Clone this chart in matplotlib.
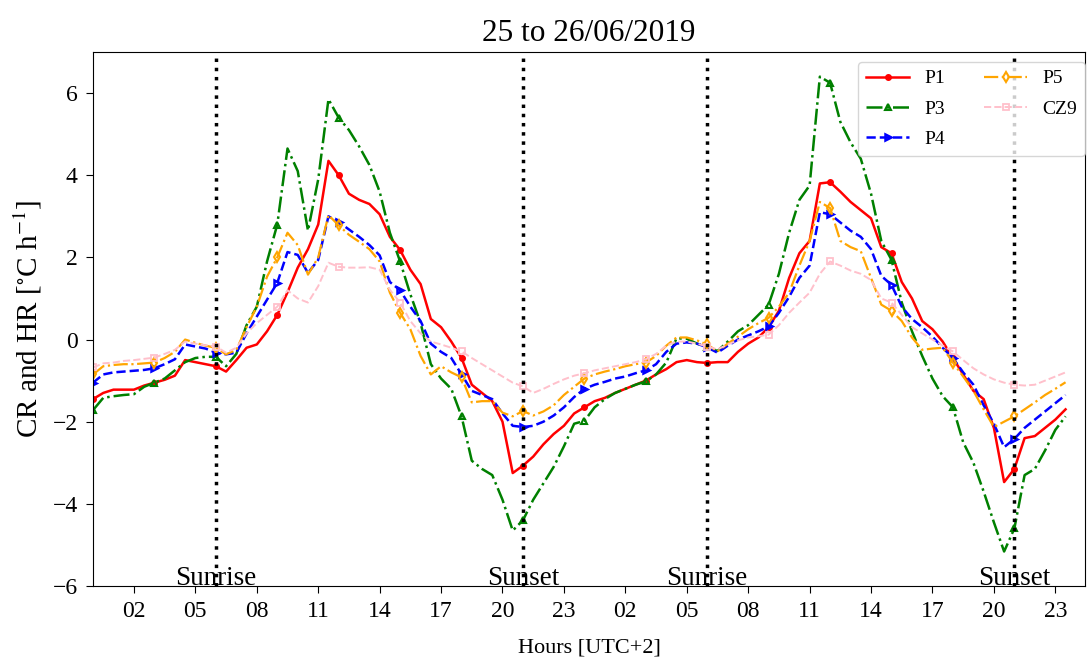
import numpy as np
import matplotlib
matplotlib.use("Agg")
import matplotlib.pyplot as plt

plt.rcParams['font.family'] = ['Liberation Serif', 'DejaVu Serif']
plt.rcParams['mathtext.fontset'] = 'stix'

# half-hourly time axis (hours from 00:00 on 25/06/2019)
hours = np.arange(0, 48, 0.5)

P1 = [-1.45, -1.3, -1.22, -1.22, -1.22, -1.12, -1.05, -0.98, -0.88, -0.5, -0.55, -0.6,
      -0.65, -0.78, -0.5, -0.2, -0.12, 0.2, 0.6, 1.15, 1.75, 2.2, 2.8, 4.35,
      4.0, 3.55, 3.4, 3.3, 3.05, 2.5, 2.18, 1.7, 1.35, 0.5, 0.3, -0.05,
      -0.45, -1.1, -1.3, -1.5, -2.0, -3.25, -3.07, -2.85, -2.55, -2.3, -2.1, -1.8,
      -1.65, -1.5, -1.42, -1.3, -1.2, -1.1, -1.0, -0.85, -0.72, -0.55, -0.5, -0.55,
      -0.57, -0.55, -0.55, -0.3, -0.1, 0.05, 0.3, 0.7, 1.5, 2.1, 2.4, 3.8,
      3.83, 3.6, 3.35, 3.15, 2.95, 2.25, 2.1, 1.4, 1.0, 0.45, 0.25, -0.05,
      -0.45, -0.85, -1.25, -1.45, -2.15, -3.47, -3.15, -2.4, -2.35, -2.15, -1.95, -1.7]

P3 = [-1.72, -1.42, -1.38, -1.35, -1.33, -1.15, -1.05, -0.95, -0.75, -0.55, -0.45, -0.42,
      -0.42, -0.65, -0.35, 0.35, 0.8, 1.9, 2.8, 4.65, 4.1, 2.65, 3.9, 5.85,
      5.4, 5.1, 4.7, 4.25, 3.6, 2.6, 1.9, 1.1, 0.4, -0.6, -0.95, -1.2,
      -1.87, -2.95, -3.15, -3.3, -3.9, -4.65, -4.4, -3.9, -3.5, -3.1, -2.6, -2.05,
      -1.98, -1.65, -1.45, -1.3, -1.2, -1.1, -1.02, -0.85, -0.56, 0.03, 0.02, -0.1,
      -0.18, -0.28, -0.05, 0.2, 0.35, 0.6, 0.85, 1.6, 2.6, 3.4, 3.75, 6.4,
      6.25, 5.3, 4.8, 4.4, 3.55, 2.4, 1.94, 0.9, 0.2, -0.4, -0.95, -1.38,
      -1.65, -2.5, -3.0, -3.7, -4.45, -5.16, -4.6, -3.3, -3.15, -2.7, -2.2, -1.87]

P4 = [-1.05, -0.85, -0.8, -0.78, -0.76, -0.74, -0.7, -0.6, -0.48, -0.12, -0.17, -0.22,
      -0.32, -0.36, -0.32, 0.15, 0.56, 0.97, 1.38, 2.13, 2.06, 1.62, 1.94, 3.0,
      2.86, 2.68, 2.5, 2.3, 2.05, 1.4, 1.2, 0.8, 0.45, -0.1, -0.3, -0.45,
      -0.85, -1.25, -1.35, -1.45, -1.8, -2.1, -2.13, -2.1, -2.0, -1.85, -1.65, -1.4,
      -1.2, -1.1, -1.03, -0.95, -0.9, -0.82, -0.75, -0.6, -0.3, -0.1, -0.07, -0.1,
      -0.19, -0.32, -0.15, 0.0, 0.1, 0.2, 0.32, 0.65, 1.04, 1.5, 1.8, 3.1,
      3.05, 2.85, 2.65, 2.5, 2.2, 1.55, 1.33, 0.8, 0.5, 0.3, 0.07, -0.2,
      -0.45, -0.8, -1.1, -1.6, -2.05, -2.62, -2.42, -2.15, -1.95, -1.75, -1.55, -1.35]

P5 = [-0.85, -0.65, -0.62, -0.6, -0.6, -0.58, -0.56, -0.45, -0.3, 0.0, -0.08, -0.15,
      -0.2, -0.36, -0.25, 0.3, 0.8, 1.53, 2.0, 2.6, 2.3, 1.58, 2.0, 3.03,
      2.78, 2.55, 2.38, 2.2, 1.9, 1.14, 0.65, 0.25, -0.4, -0.85, -0.65, -0.8,
      -0.92, -1.53, -1.5, -1.5, -1.78, -1.87, -1.74, -1.85, -1.75, -1.6, -1.35, -1.15,
      -0.95, -0.85, -0.78, -0.72, -0.65, -0.6, -0.56, -0.4, -0.15, 0.05, 0.05, -0.02,
      -0.12, -0.29, -0.1, 0.07, 0.25, 0.4, 0.53, 0.8, 1.14, 1.8, 2.4, 3.35,
      3.2, 2.4, 2.25, 2.15, 1.5, 0.85, 0.7, 0.45, 0.05, -0.25, -0.22, -0.2,
      -0.56, -0.9, -1.25, -1.7, -2.13, -2.0, -1.87, -1.7, -1.53, -1.35, -1.2, -1.04]

CZ9 = [-0.68, -0.58, -0.56, -0.52, -0.5, -0.47, -0.44, -0.35, -0.25, -0.05, -0.1, -0.14,
       -0.17, -0.32, -0.2, 0.15, 0.4, 0.6, 0.8, 1.2, 1.0, 0.9, 1.3, 1.87,
       1.77, 1.75, 1.75, 1.76, 1.7, 1.21, 0.9, 0.45, 0.15, -0.05, -0.12, -0.2,
       -0.29, -0.45, -0.6, -0.75, -0.9, -1.05, -1.14, -1.3, -1.2, -1.08, -0.97, -0.88,
       -0.82, -0.75, -0.7, -0.65, -0.6, -0.55, -0.48, -0.35, -0.15, -0.05, -0.05, -0.1,
       -0.17, -0.24, -0.12, -0.02, 0.05, 0.08, 0.12, 0.35, 0.65, 0.9, 1.14, 1.6,
       1.9, 1.8, 1.68, 1.6, 1.45, 1.0, 0.9, 0.6, 0.3, 0.15, 0.0, -0.15,
       -0.29, -0.5, -0.7, -0.85, -0.97, -1.05, -1.1, -1.12, -1.1, -1.0, -0.9, -0.8]

sunrise = [6, 30]
sunset = [21, 45]
xtick_pos = list(range(2, 48, 3))
xtick_labels = ["%02d" % (h % 24) for h in xtick_pos]

fig = plt.figure(figsize=(10.87, 6.67), dpi=100)
ax = fig.add_axes([93/1087, 1 - 586/667, (1085 - 93)/1087, (586 - 52)/667])

me = 6
ax.plot(hours, P1, color='red', ls='-', lw=1.8, marker='o', ms=4, markevery=me, label='P1')
ax.plot(hours, P3, color='green', ls='-.', lw=1.8, marker='^', ms=5, mfc='none', mew=1.5,
        markevery=me, label='P3')
ax.plot(hours, P4, color='blue', ls='--', lw=1.8, marker='>', ms=5, mfc='none', mew=1.8,
        markevery=me, label='P4')
ax.plot(hours, P5, color='orange', ls='-.', lw=1.6, marker='d', ms=5, mfc='none', mew=1.5,
        markevery=me, label='P5')
ax.plot(hours, CZ9, color='pink', ls='--', lw=1.4, marker='s', ms=5, mfc='none', mew=1.3,
        markevery=me, label='CZ9')

for x in sunrise:
    ax.axvline(x, color='black', ls=':', lw=2.5)
    ax.text(x, -5.97, 'Sunrise', ha='center', va='baseline', fontsize=19.5)
for x in sunset:
    ax.axvline(x, color='black', ls=':', lw=2.5)
    ax.text(x, -5.97, 'Sunset', ha='center', va='baseline', fontsize=19.5)

ax.set_xlim(0, 48.45)
ax.set_ylim(-6, 7)
ax.set_xticks(xtick_pos)
ax.set_xticklabels(xtick_labels)
ax.set_yticks([-6, -4, -2, 0, 2, 4, 6])
ax.tick_params(labelsize=17, length=5, pad=6)
ax.set_xlabel('Hours [UTC+2]', fontsize=16, labelpad=12)
ax.set_ylabel(r'CR and HR [$^{\circ}$C h$^{-1}$]', fontsize=21, labelpad=6)
ax.set_title('25 to 26/06/2019', fontsize=22.5, pad=8)

ax.legend(ncol=2, fontsize=14, loc='upper right', handlelength=2.2, labelspacing=0.65,
          bbox_to_anchor=(1.0, 1.0 - 10/534), borderaxespad=0.0)

fig.savefig('out.png', dpi=100)
